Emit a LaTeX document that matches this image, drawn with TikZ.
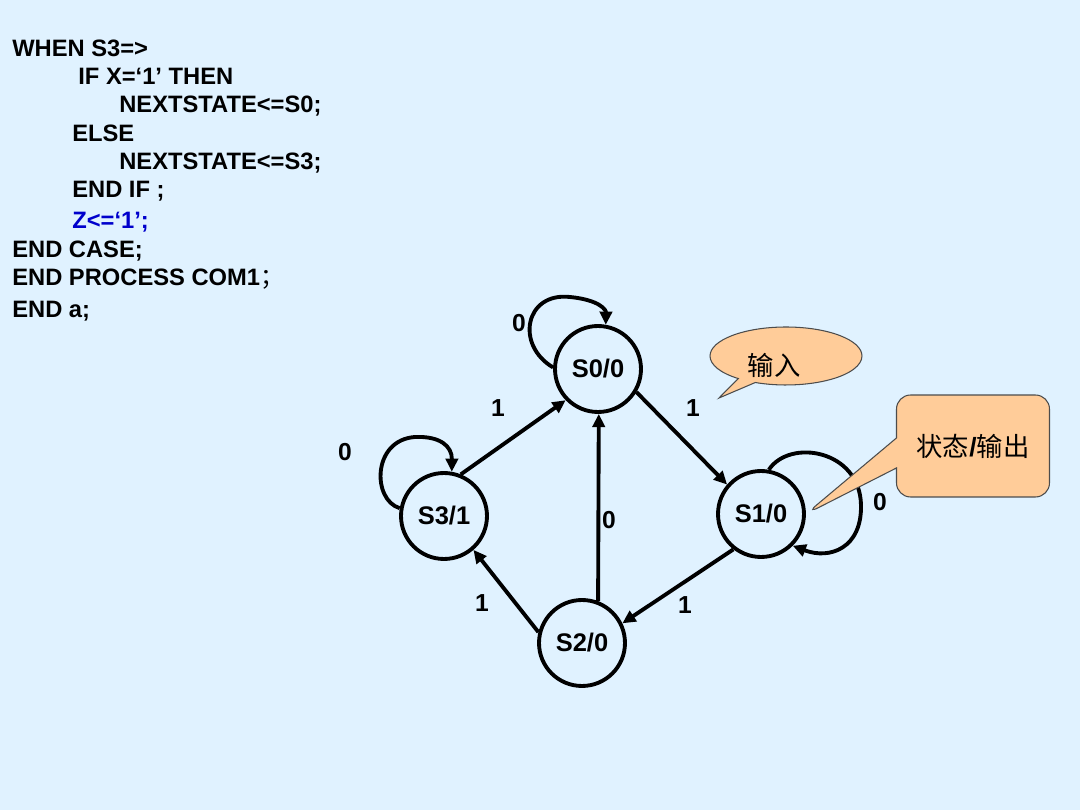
\documentclass[tikz,border=0pt]{standalone}
\usepackage{fontspec}
\setmainfont{Liberation Sans}
\newfontfamily\cjk{Noto Sans CJK SC}
\usetikzlibrary{arrows.meta,shapes.callouts}
\definecolor{bgblue}{RGB}{224,242,255}
\definecolor{peach}{RGB}{255,204,153}
\definecolor{codeblue}{RGB}{0,0,204}
\begin{document}
\begin{tikzpicture}[x=0.02cm,y=-0.02cm,
    >={Triangle[length=7.5pt,width=7pt]},
    state/.style={draw,circle,line width=2.2pt,minimum size=1.72cm,inner sep=0pt,font=\fontsize{14.5}{17}\selectfont\bfseries},
    lbl/.style={font=\fontsize{14}{17}\selectfont\bfseries},
    code/.style={anchor=base west,inner sep=0pt,font=\fontsize{13.5}{16}\selectfont\bfseries},
    edge/.style={->,line width=2.2pt},
    note/.style={fill=peach,draw=black!70,line width=0.6pt,font=\cjk\fontsize{15}{18}\selectfont}]

    \fill[bgblue] (0,0) rectangle (1080,810);
    \useasboundingbox (0,0) rectangle (1080,810);

    % code
    \node[code] (c1) at (12,57) {WHEN S3=>};
    \node[code] (c2) at (78,85) {IF X=‘1’ THEN};
    \node[code] (c3) at (119,113) {NEXTSTATE<=S0;};
    \node[code] (c4) at (72,142) {ELSE};
    \node[code] (c5) at (119,170) {NEXTSTATE<=S3;};
    \node[code] (c6) at (72,198) {END IF ;};
    \node[code,text=codeblue] (c7) at (72,229) {Z<=‘1’;};
    \node[code] (c8) at (12,258) {END CASE;};
    \node[code] (c9) at (12,286) {END PROCESS COM1{\cjk\mdseries ；}};
    \node[code] (c10) at (12,318) {END a;};

    % states
    \node[state] (s0) at (598,369) {S0/0};
    \node[state] (s1) at (761,514) {S1/0};
    \node[state] (s2) at (582,643) {S2/0};
    \node[state] (s3) at (444,516) {S3/1};

    \draw[edge] (s3.68) -- (s0.224);
    \draw[edge] (s0.-31) -- (s1.139);
    \draw[edge] (s1.232) -- (s2.26);
    \draw[edge] (s2.166) -- (s3.-49);
    \draw[edge] (s2.69) -- (s0.-89);

    \draw[edge] (s0.178) .. controls (515,345) and (525,292) .. (570,297) .. controls (600,300) and (606,310) .. (s0.80);
    \draw[edge] (s3.170) .. controls (372,500) and (372,440) .. (415,437) .. controls (440,436) and (452,446) .. (s3.80);
    \draw[edge] (s1.80) .. controls (790,438) and (860,450) .. (861,505) .. controls (862,548) and (830,560) .. (s1.-45);

    % labels
    \node[lbl] (l1) at (519,323) {0};
    \node[lbl] (l2) at (498,408) {1};
    \node[lbl] (l3) at (693,408) {1};
    \node[lbl] (l4) at (345,452) {0};
    \node[lbl] (l5) at (609,520) {0};
    \node[lbl] (l6) at (482,603) {1};
    \node[lbl] (l7) at (685,605) {1};
    \node[lbl] (l8) at (880,502) {0};

    % callouts
    \node[note,ellipse callout,minimum width=3.04cm,minimum height=1.16cm,
        callout absolute pointer={(719,398)}] (inp) at (786,356) {};
    \node[font=\cjk\fontsize{15}{18}\selectfont] (inptext) at (774,365) {输入};
    \node[note,rectangle callout,rounded corners=8pt,minimum width=3.06cm,minimum height=2.04cm,
        callout absolute pointer={(s1.east)},callout pointer width=0.6cm] (out) at (973,446) {状态{\rmfamily\bfseries /}输出};
\end{tikzpicture}
\end{document}
